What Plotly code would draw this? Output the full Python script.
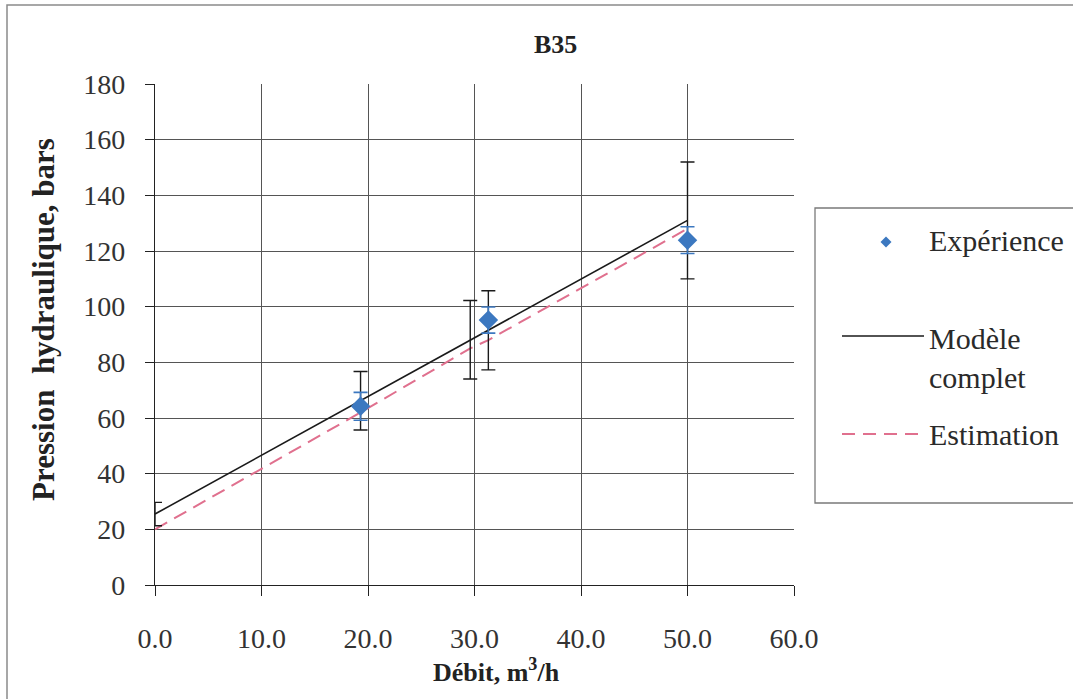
import plotly.graph_objects as go

# ---------------- data ----------------
exp_x = [19.3, 31.3, 50.0]
exp_y = [64.2, 95.2, 123.9]
exp_err = [5.0, 4.7, 4.8]

model_x = [0.0, 19.3, 29.6, 31.3, 50.0]
model_y = [25.5, 66.2, 88.1, 91.5, 131.0]
model_err = [4.2, 10.5, 14.1, 14.2, 21.0]

est_x = [0.0, 19.3, 29.6, 31.3, 50.0]
est_y = [20.0, 62.0, 85.0, 88.0, 128.0]

x_ticks = [0, 10, 20, 30, 40, 50, 60]
x_ticklabels = ["0.0", "10.0", "20.0", "30.0", "40.0", "50.0", "60.0"]
y_ticks = [0, 20, 40, 60, 80, 100, 120, 140, 160, 180]

title_text = "B35"
x_title = "Débit, m<sup>3</sup>/h"
y_title = "Pression  hydraulique, bars"
leg_names = ["Expérience", "Modèle<br>complet", "Estimation"]

# ---------------- layout geometry ----------------
W, H = 1073, 699
L, R, T, B = 155, 794, 84, 585
FONT = "Liberation Serif, Times New Roman, serif"
BLUE = "#3c78c0"
PINK = "#e0708e"
DASH = "14px,8px"


def px(x):
    return (x - L) / (R - L)


def py(y):
    return (B - y) / (B - T)


fig = go.Figure()

fig.add_trace(go.Scatter(
    x=est_x, y=est_y, mode="lines", name="Estimation",
    line=dict(color=PINK, width=2, dash=DASH), showlegend=False))

fig.add_trace(go.Scatter(
    x=model_x, y=model_y, mode="lines", name="Modèle complet",
    line=dict(color="#1a1a1a", width=1.6),
    error_y=dict(type="data", array=model_err, visible=True,
                 color="#1a1a1a", thickness=1.4, width=7),
    showlegend=False))

fig.add_trace(go.Scatter(
    x=exp_x, y=exp_y, mode="markers", name="Expérience",
    marker=dict(symbol="diamond", size=15, color=BLUE),
    error_y=dict(type="data", array=exp_err, visible=True,
                 color=BLUE, thickness=1.6, width=7),
    showlegend=False))

shapes = []
# outer border
shapes.append(dict(type="rect", xref="paper", yref="paper",
                   x0=px(7), x1=px(1090), y0=py(712), y1=py(5),
                   line=dict(color="#8a8a8a", width=1.5), fillcolor="rgba(0,0,0,0)",
                   layer="below"))
# legend box
shapes.append(dict(type="rect", xref="paper", yref="paper",
                   x0=px(815), x1=px(1090), y0=py(503), y1=py(208),
                   line=dict(color="#7a7a7a", width=1.3), fillcolor="white"))
# legend diamond
cx, cy, r = 886, 242, 5.5
shapes.append(dict(type="path", xref="paper", yref="paper",
                   path=f"M {px(cx-r)},{py(cy)} L {px(cx)},{py(cy-r)} L {px(cx+r)},{py(cy)} L {px(cx)},{py(cy+r)} Z",
                   line=dict(color=BLUE, width=0), fillcolor=BLUE))
# legend solid line
shapes.append(dict(type="line", xref="paper", yref="paper",
                   x0=px(842), x1=px(924), y0=py(336), y1=py(336),
                   line=dict(color="#1a1a1a", width=1.6)))
# legend dashed line
shapes.append(dict(type="line", xref="paper", yref="paper",
                   x0=px(842), x1=px(924), y0=py(434), y1=py(434),
                   line=dict(color=PINK, width=2, dash="13px,8px")))


def ann(text, x, y, size, **kw):
    d = dict(text=text, xref="paper", yref="paper", x=px(x), y=py(y),
             showarrow=False, xanchor=kw.pop("xanchor", "center"), yanchor="middle",
             font=dict(family=FONT, size=size, color=kw.pop("color", "#222")))
    d.update(kw)
    return d


annotations = [
    ann(f"<b>{title_text}</b>", 555, 45, 26),
    ann(f"<b>{x_title}</b>", 497, 670, 26),
    ann(f"<b>{y_title}</b>", 43, 320, 31, textangle=-90),
    ann(leg_names[0], 927, 241, 30, xanchor="left", color="#2a2a2a"),
    ann(leg_names[1], 927, 358, 30, xanchor="left", align="left", color="#2a2a2a"),
    ann(leg_names[2], 927, 434, 30, xanchor="left", color="#2a2a2a"),
]

fig.update_layout(
    width=W, height=H,
    margin=dict(l=L, r=W - R, t=T, b=H - B, pad=0),
    paper_bgcolor="white", plot_bgcolor="white",
    showlegend=False,
    font=dict(family=FONT),
    shapes=shapes, annotations=annotations,
    xaxis=dict(range=[0, 60], tickvals=x_ticks, ticktext=x_ticklabels,
               showgrid=True, gridcolor="#555", gridwidth=1,
               showline=True, linecolor="#222", linewidth=1.3,
               ticks="outside", ticklen=10, tickcolor="#222",
               ticklabelstandoff=18, zeroline=False,
               tickfont=dict(family=FONT, size=28, color="#333")),
    yaxis=dict(range=[0, 180], tickvals=y_ticks,
               showgrid=True, gridcolor="#555", gridwidth=1,
               showline=True, linecolor="#222", linewidth=1.3,
               ticks="outside", ticklen=9, tickcolor="#222",
               ticklabelstandoff=14, zeroline=False,
               tickfont=dict(family=FONT, size=28, color="#333")),
)

fig.write_html("out.html", config={"displayModeBar": False},
               post_script="document.body.style.margin='0';document.body.style.overflow='hidden';")
